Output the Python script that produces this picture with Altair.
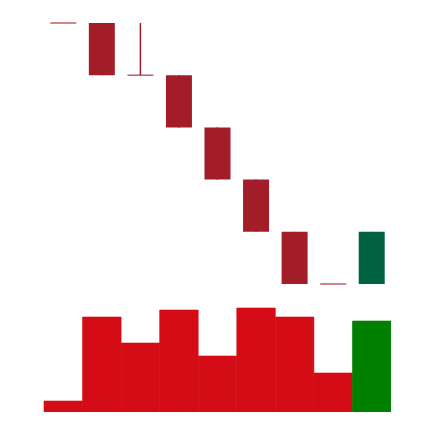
import altair as alt
import pandas as pd

days = [1, 2, 3, 4, 5, 6, 7, 8, 9]
opens = [6, 6, 5, 5, 4, 3, 2, 1, 1]
closes = [6, 5, 5, 4, 3, 2, 1, 1, 2]
highs = [6, 6, 6, 5, 4, 3, 2, 1, 2]
lows = [6, 5, 5, 4, 3, 2, 1, 1, 1]
volumes = [110, 950, 690, 1020, 560, 1040, 950, 390, 910]

df = pd.DataFrame({"day": days, "open": opens, "close": closes,
                   "high": highs, "low": lows, "volume": volumes})
df["dir"] = ["up" if c > o else "down" for o, c in zip(opens, closes)]

x = alt.X("day:O", axis=None,
          scale=alt.Scale(paddingInner=0, paddingOuter=0))
py = alt.Scale(domain=[-1.452, 6.249], nice=False, zero=False)
vy = alt.Scale(domain=[0, 4020], nice=False)
ccolor = alt.Color("dir:N", legend=None,
                   scale=alt.Scale(domain=["down", "up"], range=["#a21d27", "#006241"]))
vscale = alt.Scale(domain=["down", "up"], range=["#d40c16", "#008000"])
vcolor = alt.Color("dir:N", legend=None, scale=vscale)
vstroke = alt.Stroke("dir:N", legend=None, scale=vscale)

base = alt.Chart(df)

vol = base.mark_bar(strokeWidth=0.6).encode(
    x=x, y=alt.Y("volume:Q", axis=None, scale=vy), color=vcolor, stroke=vstroke)

wick = base.mark_rule(strokeWidth=1.5).encode(
    x=x, y=alt.Y("low:Q", axis=None, scale=py), y2="high:Q", color=ccolor)
body = base.transform_filter("datum.open != datum.close").mark_bar(size=26).encode(
    x=x, y=alt.Y("open:Q", axis=None, scale=py), y2="close:Q", color=ccolor)
doji = base.transform_filter("datum.open == datum.close").mark_tick(
    size=26, thickness=1.5, orient="horizontal").encode(
    x=x, y=alt.Y("close:Q", axis=None, scale=py), color=ccolor)

price = alt.layer(wick, body, doji)

chart = alt.layer(vol, price).resolve_scale(
    y="independent", color="independent", stroke="independent"
).properties(
    width=347, height=402,
    padding={"left": 44, "top": 10, "right": 0, "bottom": 0},
    autosize=alt.AutoSizeParams(type="none"),
).configure_view(stroke=None)

chart.save("out.html", embed_options={"renderer": "svg", "actions": False})
